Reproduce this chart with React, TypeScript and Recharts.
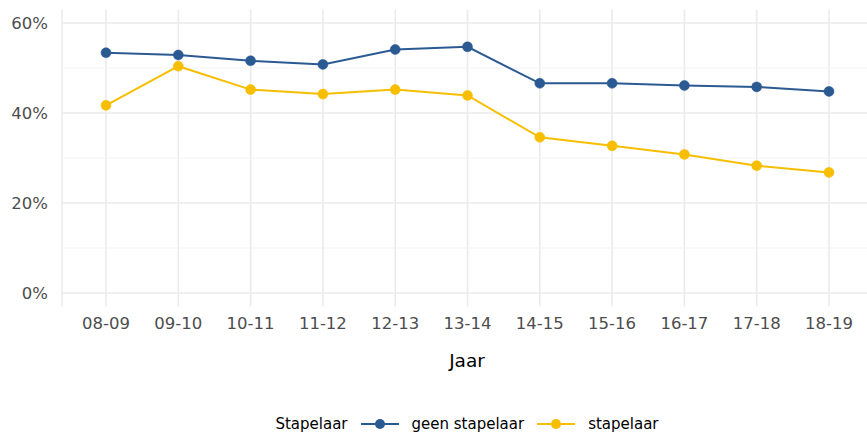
import React from "react";
import {
  LineChart,
  Line,
  XAxis,
  YAxis,
  CartesianGrid,
  ReferenceLine,
} from "recharts";

const years = ["08-09", "09-10", "10-11", "11-12", "12-13", "13-14", "14-15", "15-16", "16-17", "17-18", "18-19"];
const geenStapelaar = [53.4, 52.9, 51.6, 50.8, 54.1, 54.7, 46.6, 46.6, 46.1, 45.8, 44.8];
const stapelaar = [41.7, 50.4, 45.2, 44.2, 45.2, 43.9, 34.6, 32.7, 30.8, 28.3, 26.8];
const yTicks = [0, 20, 40, 60];
const yMinor = [10, 30, 50];

const BLUE = "#2b5a93";
const YELLOW = "#f7be00";
const FONT = "'DejaVu Sans', Verdana, sans-serif";

const series = [
  { key: "geen", name: "geen stapelaar", color: BLUE },
  { key: "stap", name: "stapelaar", color: YELLOW },
];

const data = years.map((y, i) => ({
  year: y,
  geen: geenStapelaar[i],
  stap: stapelaar[i],
}));

const LegendKey: React.FC<{ color: string }> = ({ color }) => (
  <svg width={38} height={12} style={{ display: "block" }}>
    <line x1={0} y1={6} x2={38} y2={6} stroke={color} strokeWidth={2} />
    <circle cx={19} cy={6} r={5} fill={color} />
  </svg>
);

export default function App() {
  return (
    <div
      style={{
        position: "absolute",
        left: 0,
        top: 0,
        width: 867,
        height: 432,
        overflow: "hidden",
        background: "#fff",
        fontFamily: FONT,
      }}
    >
      <LineChart
        width={880}
        height={432}
        data={data}
        margin={{ top: 9.5, right: 8, left: 0, bottom: 63.5 }}
      >
        <CartesianGrid
          stroke="#ebebeb"
          strokeWidth={1.6}
          horizontalValues={yTicks}
        />
        {yMinor.map((v) => (
          <ReferenceLine key={v} y={v} stroke="#f3f3f3" strokeWidth={1} />
        ))}
        <XAxis
          dataKey="year"
          padding={{ left: 44, right: 43 }}
          axisLine={false}
          tickLine={false}
          tickSize={0}
          tickMargin={11}
          height={62}
          interval={0}
          tick={{ fill: "#4d4d4d", fontSize: 16.5, fontFamily: FONT }}
          label={{
            value: "Jaar",
            position: "insideBottom",
            offset: 2,
            fill: "#000",
            fontSize: 18.5,
            fontFamily: FONT,
          }}
        />
        <YAxis
          type="number"
          domain={[-3, 63]}
          ticks={yTicks}
          width={62}
          axisLine={false}
          tickLine={false}
          tickSize={0}
          tickMargin={14}
          tickFormatter={(v: number) => `${v}%`}
          tick={{ fill: "#4d4d4d", fontSize: 16.5, fontFamily: FONT }}
        />
        {series.map((s) => (
          <Line
            key={s.key}
            dataKey={s.key}
            name={s.name}
            stroke={s.color}
            strokeWidth={2}
            dot={{ r: 5, fill: s.color, stroke: s.color, strokeWidth: 0.5 }}
            activeDot={false}
            isAnimationActive={false}
          />
        ))}
      </LineChart>
      <div
        style={{
          position: "absolute",
          left: 62,
          width: 810,
          top: 415,
          height: 18,
          display: "flex",
          justifyContent: "center",
          alignItems: "center",
          fontSize: 15,
          color: "#000",
          whiteSpace: "nowrap",
        }}
      >
        <span style={{ marginRight: 13 }}>Stapelaar</span>
        {series.map((s, i) => (
          <React.Fragment key={s.key}>
            <LegendKey color={s.color} />
            <span style={{ marginLeft: 13, marginRight: i === 0 ? 13 : 0 }}>{s.name}</span>
          </React.Fragment>
        ))}
      </div>
    </div>
  );
}
